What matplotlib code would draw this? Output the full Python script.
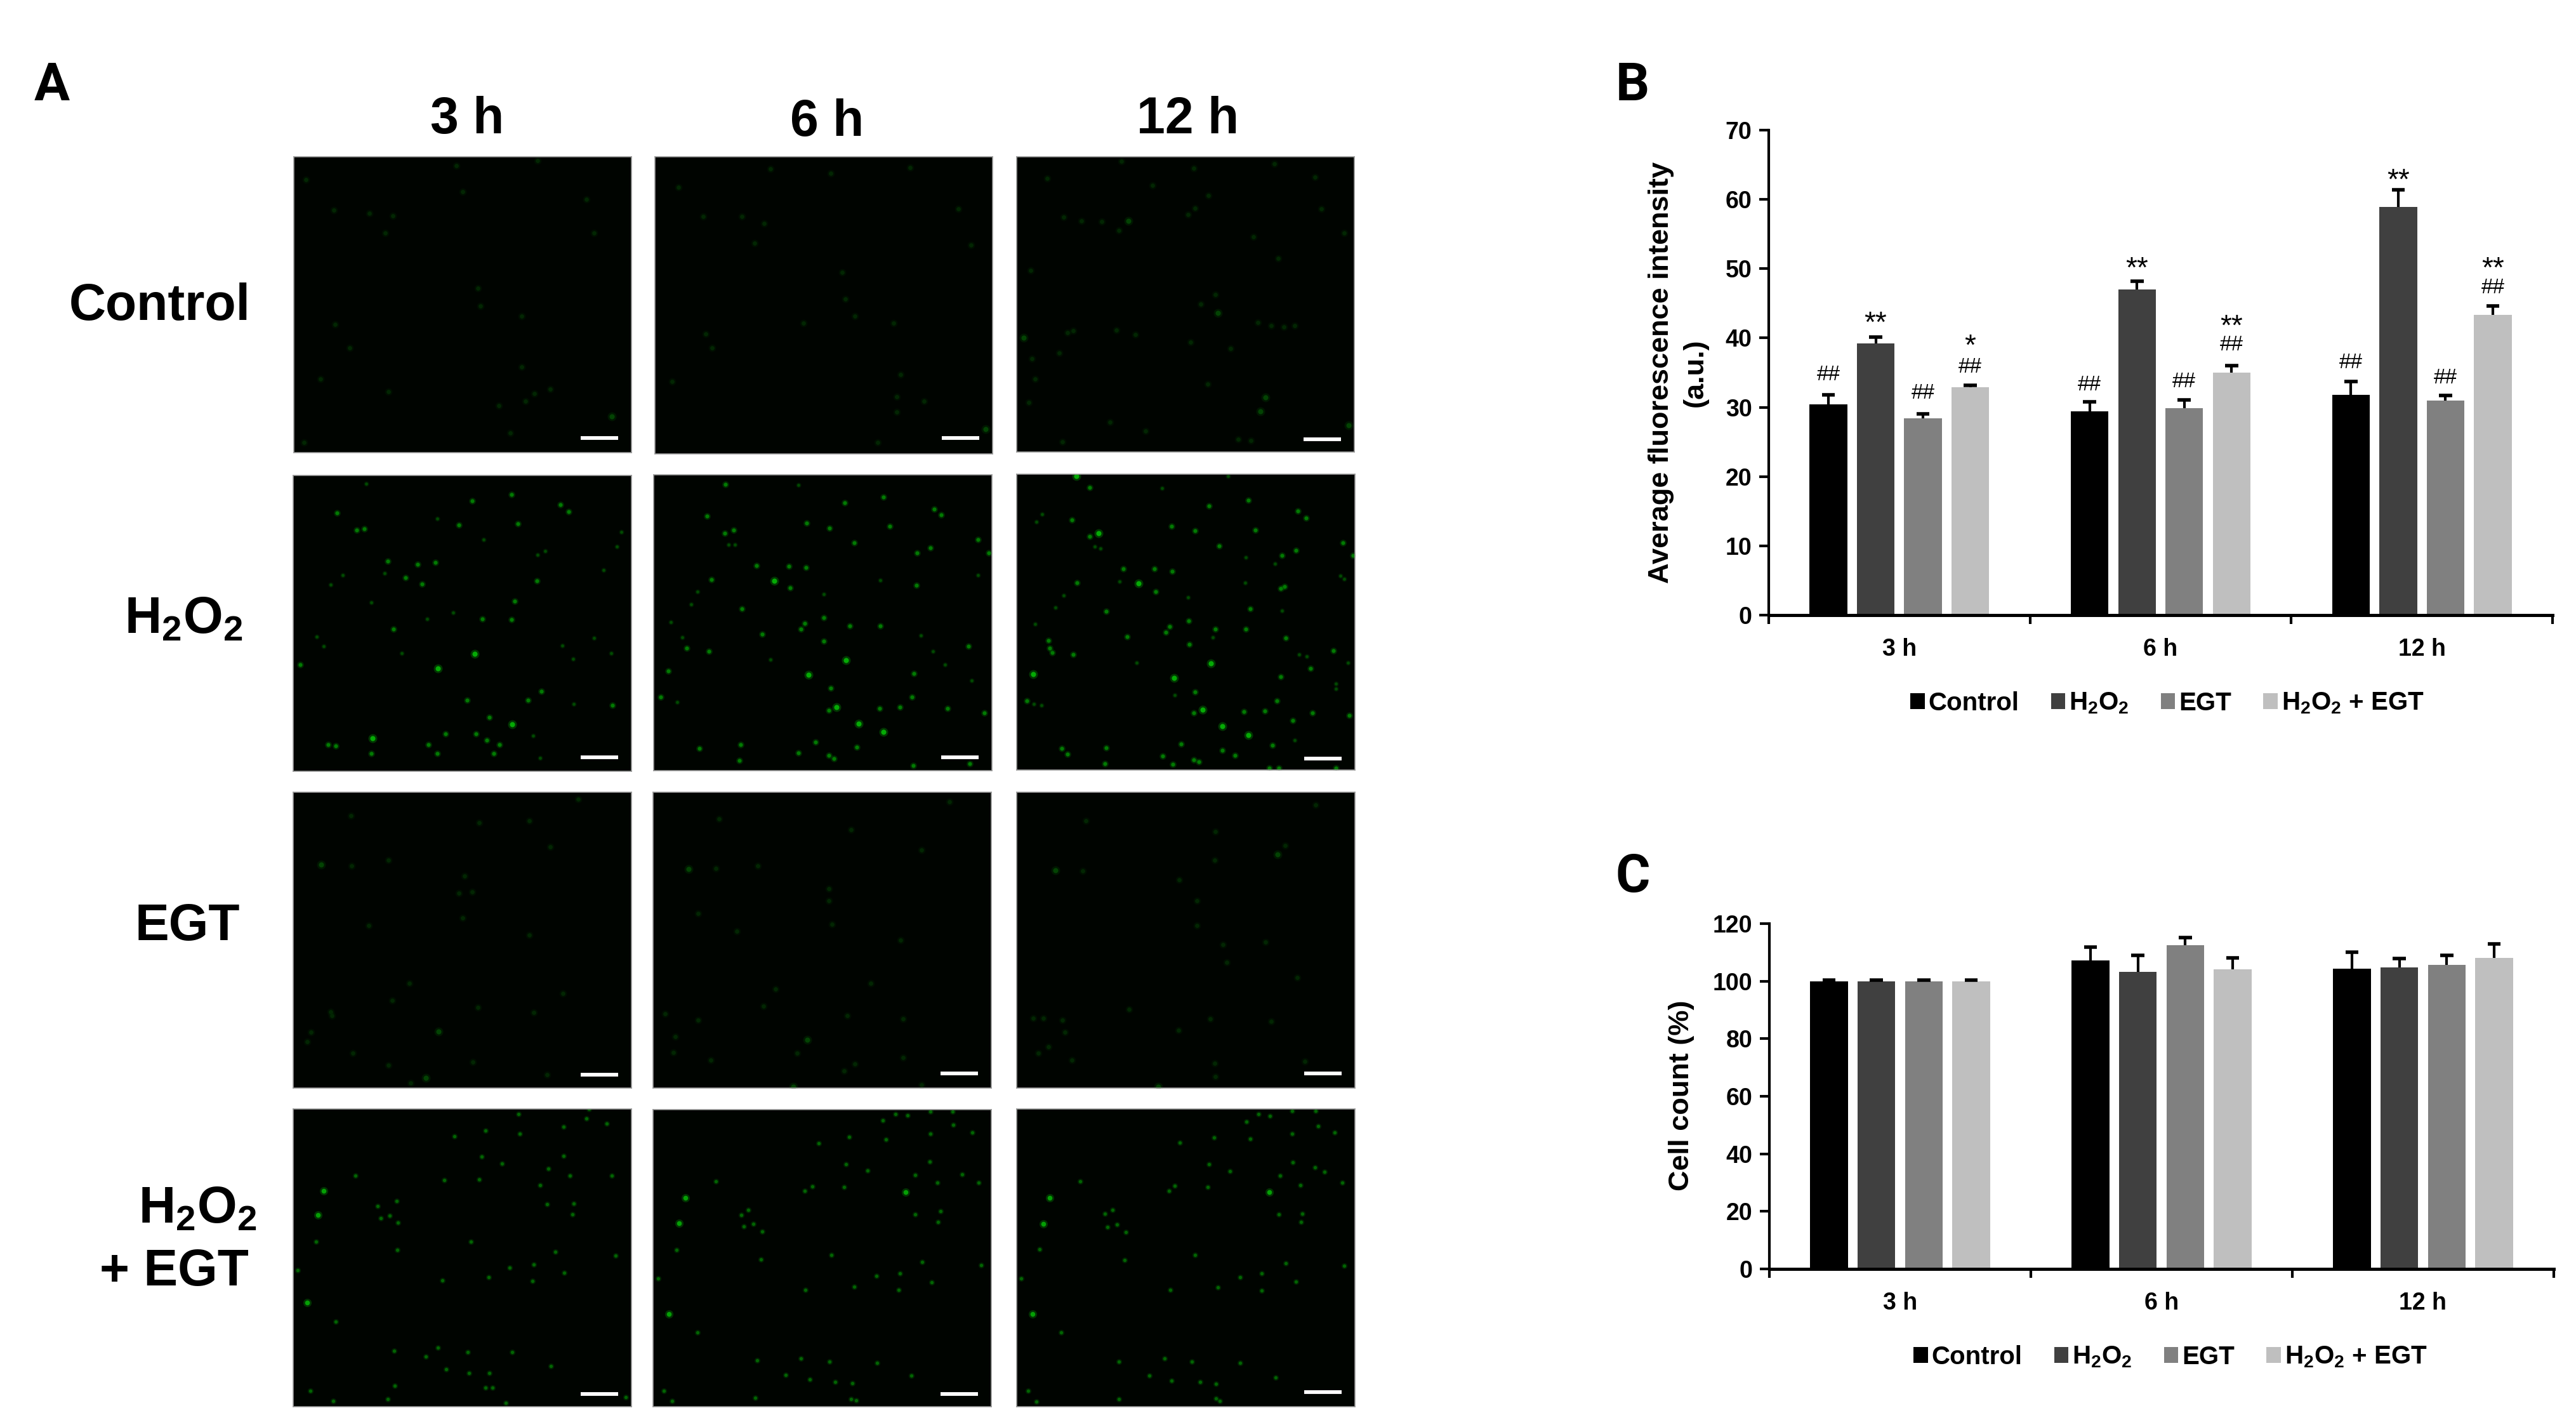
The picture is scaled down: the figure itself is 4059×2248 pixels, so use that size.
import matplotlib
matplotlib.use('Agg')
import matplotlib.pyplot as plt
import numpy as np

plt.rcParams['font.family'] = ['Liberation Sans', 'DejaVu Sans']
plt.rcParams['font.weight'] = 'bold'
plt.rcParams['mathtext.fontset'] = 'custom'
plt.rcParams['mathtext.bf'] = 'Liberation Sans:bold'
plt.rcParams['mathtext.rm'] = 'Liberation Sans:bold'
plt.rcParams['mathtext.default'] = 'bf'

W, H = 4059, 2248

times = ['3 h', '6 h', '12 h']
H2O2 = 'H$_2$O$_2$'
groups = ['Control', H2O2, 'EGT', H2O2 + ' + EGT']
colors = ['#000000', '#404040', '#808080', '#bfbfbf']

# panel B, one list per group, values at 3 h, 6 h, 12 h
fluor_control = [30.4, 29.4, 31.8]
fluor_h2o2 = [39.2, 47.0, 58.9]
fluor_egt = [28.4, 29.9, 31.0]
fluor_both = [32.9, 35.0, 43.3]
fluor_err_control = [1.4, 1.4, 1.9]
fluor_err_h2o2 = [0.9, 1.2, 2.5]
fluor_err_egt = [0.6, 1.2, 0.7]
fluor_err_both = [0.3, 1.0, 1.3]

# panel B significance marks (time, group, text, height)
fluor_marks = [
    (0, 0, '##', 35.0), (0, 1, '**', 43.1), (0, 2, '##', 32.3), (0, 3, '##', 36.1), (0, 3, '*', 39.8),
    (1, 0, '##', 33.5), (1, 1, '**', 51.0), (1, 2, '##', 34.0), (1, 3, '##', 39.3), (1, 3, '**', 42.7),
    (2, 0, '##', 36.7), (2, 1, '**', 63.7), (2, 2, '##', 34.5), (2, 3, '##', 47.5), (2, 3, '**', 51.0),
]

# panel C
count_control = [100, 107.3, 104.3]
count_h2o2 = [100, 103.3, 104.8]
count_egt = [100, 112.5, 105.7]
count_both = [100, 104.2, 108.1]
count_err_control = [0.4, 4.5, 5.7]
count_err_h2o2 = [0.4, 5.6, 3.0]
count_err_egt = [0.4, 2.7, 3.2]
count_err_both = [0.4, 3.9, 4.8]

# green spots of the micrographs, (x %, y % from top, level), level 0 dim, 2 bright, default 1
control_3h = [(3.5,7.7),(11.8,18),(22.4,19.2),(29.4,20),(48.2,3.1),(50,11.8),(86.6,14.3),(88.9,25.8),(55.3,50.5),(54.5,44.4),
              (12.3,56.6),(67.4,53.8),(67.5,71),(76,78.5),(71.3,80),(68.7,82.6),(94.2,87.8,2),(64.1,93.3),(3,96.5),(7.9,75.2),
              (16.5,64.5),(28,79.3),(60.7,84.2),(72.2,1.2),(27,25.8)]
control_6h = [(6.9,10.2),(14.2,20),(25.7,20),(32.4,22.5),(52.1,5.6),(34.3,4.1),(55.4,38.9),(59.2,53.6),(56.3,47.9),(15.1,59.7),
              (70.7,56),(72.7,73.3),(79.7,82.3),(71.6,80.7),(71.6,85.9),(97.9,91.6,2),(65.9,96.2),(5,75.7),(17,64.3),(75.5,3.6),
              (89.8,17.5),(93.7,29.8),(29.5,29),(43.9,56)]
control_12h = [(9.1,7.4),(31,1.6),(52.4,3.8),(76.4,2.3),(56.7,13.2),(88.3,6.8),(40.3,9.7),(14,20.4),(19.2,21.8),(25.1,22),
               (33.1,21.7,2),(30.3,25),(50.7,19.6),(52.9,17.5),(90.3,17.6),(70.2,27),(77.5,34.5),(4.1,38.5),(97,25.7),(58.9,46.7),
               (59.5,53,2),(54.5,49.8),(71.5,56.2),(75.3,57.2),(79.1,57.6),(82.3,57.2),(2.1,61.3,2),(15.1,59.5),(16.7,59),(29.6,58.8),
               (35.1,60.3),(63.4,65),(51.5,62.7),(12.5,66.4),(4.5,68.3),(5.4,75.3),(3.6,83.3),(56.5,77),(73.6,81.5,2),(72.1,86.2,2),
               (98.4,91,2),(65.6,95.8),(69.3,96.2),(27.7,89.9),(38.1,92.8),(13.6,96.5)]

h2o2_3h = [(21.5,2.8,0),(13,12.6),(18.8,18.4),(21,18),(53,8.5),(64.6,6.4),(79,9.9),(81.5,12.3),(42.5,14.6,0),(49,16.7),
           (66.5,16.3),(56.3,21.7,0),(74.5,25.5,0),(72.2,26.8,0),(95.6,24,0),(97,19,0),(28,29),(36.8,30),(42,29.4),(33.3,34.5),
           (38,36.6),(27,33,0),(14.7,33.7,0),(11,37,0),(72,35.6),(91.7,32,0),(65.5,42.5),(23,43,0),(39.6,48.4,0),(47.3,46.3,0),
           (56,48.4),(64.6,48.8),(29.7,52),(7,54.5,0),(9,57.8,0),(53.6,60.4,2),(42.7,65.2,2),(2,64),(32,60,0),(79.5,57.5,0),
           (82.8,62,0),(89,55,0),(94,60,0),(51.5,76),(73.4,73),(69.4,76),(94.3,77.7),(83,77.2,0),(58,81.8),(64.8,84.2,2),
           (54,87.4),(57.3,89.5),(45,87.4),(23.4,88.8,2),(10.3,91),(12.6,91.5),(40,91),(59.2,93.9),(61,91),(42.5,94),
           (23,94),(71,88,0),(73,95.5,0)]
h2o2_6h = [(21.2,3.3),(42.7,3.4,0),(56.5,9.5),(68,7.6),(83,11.5),(85,13.6),(15.7,14),(21,19.7),(23.6,18.7),(22.2,23.5,0),
           (24,23.6,0),(45.3,16.4),(52,18),(69.8,17.4),(59.3,23),(95.8,21.8),(81.8,24.6),(77.8,26.4),(99,26.3),(30.4,30.7),
           (40,31),(45,31.4),(17,35.5),(35.6,35.8,2),(40.3,38.3),(77.6,37.3),(67,35.6,0),(95.8,33.8,0),(13,39.4,0),(11,43.7,0),
           (26,45.3),(50.3,40.4,0),(5,49.8,0),(44.7,50.2),(43.5,52.2),(50.3,48.3),(58,51),(67,51),(32,53.9),(79,54.3,0),
           (8.4,55,0),(9.8,58.5),(16.4,59.6),(50.3,56.3),(93,58),(82.6,59.6,0),(56.8,62.6,2),(34.6,62.4,0),(4.4,66.3),(45.7,67.5,2),
           (86.2,64.2,0),(77,67.2),(52.4,72),(94,69.5,0),(2,75.2),(6.9,76.8,0),(54,78.5,2),(51.7,79.6),(66.7,79),(72.8,78.6),
           (76.3,75.2),(86.8,79),(97.7,80.5),(60.6,84.2,2),(67.9,87,2),(47.9,90.3),(60,92),(13.6,92.4),(25.7,91.3),(42.8,93.9),
           (51.7,94.9),(53.3,96),(25.4,96.6),(93.5,97.7),(76.7,98.2)]
h2o2_12h = [(17.6,0.6,2),(21.6,4.6),(42.9,4.7,0),(62.4,0.7,0),(68.5,8.9),(56.8,10.7),(83.2,12.4),(85.5,14.7),(7.5,13.5,0),(5.9,16,0),
            (16.3,15.5),(45.8,17.5),(52.7,19.2),(70.5,18.8),(21.6,21),(24.2,19.9,2),(23,24.5,0),(24.7,25,0),(59.9,24.2),(96.4,23.2),
            (82.5,25.7),(78.5,27.5),(99.5,27.5),(67.8,28.2,0),(76.4,30.3,0),(31.5,32),(40.7,32),(45.9,32.8),(17.8,36.8),(30.4,36.2,0),
            (36,36.9,2),(41,39.6),(67.6,36.6,0),(78,38.6),(79.2,38),(95.7,34.4,0),(96.9,35.4,0),(13.9,40.9,0),(50.7,41.6,0),(11.5,45,0),
            (26.5,46.4),(69,45.6),(78.4,46.2,0),(5.4,50.7,0),(50.8,49.6),(45.3,51.6),(44,53.4),(58.8,52.4),(67.7,52.3),(32.7,55),
            (58,55.2,0),(79.5,55.3),(9.3,56.2),(9.8,58.7),(10.6,60.2),(51,57.5),(16.7,61),(93.7,59.7),(83.5,61,0),(85.8,61.6,0),
            (35.5,63.8,0),(57.4,63.9,2),(97.9,63.8,0),(86.9,65.6),(4.9,67.5,2),(46.5,68.9,2),(78,68.5),(94.4,70.8,0),(94.4,72.6,0),(52.7,73.5),
            (46.8,74.7,0),(3,76.6),(5.1,77.7,0),(7.4,78.2,0),(77,76.6),(54.9,79.7,2),(52.4,80.6),(67.2,80.3),(73.3,80),(87.4,80.6),
            (98.3,81.5),(81.7,83.2),(60.8,85.3,2),(68.5,88.2,2),(82.2,90,0),(75.6,91.6),(48.5,91.3),(13.4,92.8),(15,94.7),(26.4,92.4),
            (60.7,93.3),(64.6,95.1),(43.1,95.2),(52.3,96.6),(53.8,97.2),(46.2,98),(26,97.9),(74.7,99.4),(77.5,99.3),(94.3,99.3)]

egt_3h = [(8.3,24.5,2),(17.2,24.8),(17,7.9),(55,10.3),(84.2,2.4),(69.8,9.7),(76,18.5),(28.1,23),(50,42.5),(69.8,48.2),
          (22.3,45),(53,33.6),(48.9,34.1),(50.6,28.3),(5.2,81.2),(11.5,75.6),(4.2,84.3),(42.9,80.9,2),(17.7,88.2),(53.1,91.2),
          (39.2,96.5,2),(34.8,98.2),(28.1,92.3),(75,95.4),(54.6,72.8),(29.2,70.3),(79.8,68),(71.2,74.5),(34.4,64.5),(11,74.2)]
egt_6h = [(10.6,25.9,2),(18.5,25.8),(19.6,9),(58.5,12.7),(87.7,3.2),(79.4,19.6),(31,24.8),(52.9,44.6),(73.1,50.1),(24.8,47),
          (51.9,36.6),(51.9,32.7),(13.3,41),(6.5,82.6),(13.3,77),(45.6,83.7,2),(32.7,72.4),(57.5,75.6),(6,88),(17,90.5),
          (56.5,94.2),(41.5,99.6,2),(79.4,98.9),(59.6,91.8),(42.5,88.2),(74,89.8),(73.9,76.7),(64.4,64.5),(36.3,66.6),(3.5,74.9)]
egt_12h = [(11.5,26.5,2),(19.6,26.6),(20.4,9.6),(58.8,13.2),(88.3,4.3),(79.4,18.1),(77.1,21,2),(58.6,23),(48.1,29.7),(53.3,36.8),
           (53.3,45),(73.5,50.6),(61,51.5),(82.9,62.7),(33.3,73.3),(57.3,76.6),(75.2,77.4),(47.9,80.5),(14.2,81.2),(9.4,86),
           (6.3,88.2),(16.3,90.5),(58.5,91.6),(58.7,96.2),(41.9,99.6,2),(85.2,90.9),(4.8,76.3),(7.9,76.3),(13.5,77),(62.1,57.5)]

both_3h = [(66.6,1.7),(87.5,0.1),(56.8,7.2),(67,8.4),(80,6),(86.6,3.3),(92.7,5),(47.6,9.1),(18.4,22.3),(44.7,23.8),
           (54.9,23.7),(55.7,16),(61.8,18.3),(80,15.8),(75.4,20),(81.8,22.4),(94.2,22.3),(73,25.6),(9,27.6,2),(7.3,35.6,2),
           (30.5,31),(25,32.7),(25.9,36.6),(28.6,35.9),(31,38.2),(75,31.9),(82.9,31.7),(82.5,35.5),(6.7,44.6),(30.7,47.4),
           (52.6,44.6),(77.5,48),(95.4,49.3),(1.3,54.2),(63.9,53.2),(71.2,52.2),(80.2,55.1),(57.8,56.6),(44,57.6),(70.8,57.8),
           (4.2,65,2),(12.5,71.5),(29.9,81.2),(42.8,80.2),(39.2,83.1),(51.6,81.7),(64.7,81.7),(76.2,86.4),(45.3,87.5),(52,88.8),
           (58,88.6),(30,93),(56.8,93.5),(58.9,93.5),(5,94.7),(28,97.4),(11.9,98),(62.8,98.8),(98.3,96.8)]
both_6h = [(71.6,1.5),(75.2,1.9),(82,0.6),(88.5,0.6),(68,3.7),(88.7,5.1),(58,9.1),(68.9,10),(82,8.2),(94.4,7.6),
           (48.9,11.4),(57,18.3),(63.5,20.6),(81.8,17.6),(77.5,22),(84,24.5),(91.4,21.7),(96.2,24.5),(18.6,24.1),(47,25.8),
           (44.9,27.4),(56.4,26),(74.7,27.8,2),(9.6,29.8,2),(7.7,38.2,2),(28.2,33.8),(26.1,35.5),(26.9,39.3),(29.6,38.5),(32.2,41),
           (77.5,35.2),(85,34.2),(84.3,37.8),(6.9,47.2),(31.9,50.4),(52.8,49),(79.5,51.2),(66,56),(73,55.1),(97,52.4),
           (82.3,58.2),(59.5,59.6),(72.7,60.7),(45,60.7),(1.5,56.9),(4.6,68.7,2),(13.2,75),(30.7,84.3),(43.8,83.7),(52.2,84.8),
           (66.2,85.2),(39.2,89.3),(46.3,90.9),(53.9,91.7),(59,92.2),(76.4,89.6),(3.1,94.7),(30.3,97),(5.6,98.1),(58.5,97.5),(60.1,97.8)]
both_12h = [(71.5,1.7),(74.8,2.4),(81.5,0.6),(88.3,0.7),(67.9,4.3),(89.2,5.8),(58.3,9.7),(69,10),(81.5,8.3),(94,7.9),
            (48.3,11.4),(56.9,18.6),(63.1,20.9),(81.7,17.9),(77.9,22.3),(83.8,25.5),(88.1,19.7),(91,21.2),(96.3,24.7),(18.8,24.4),
            (46.7,25.9),(45,27.6),(56.5,26.3),(74.6,28,2),(9.8,29.9,2),(7.9,38.5,2),(28.3,33.8),(26,35.2),(26.9,39.6),(29.6,38.9),
            (32.3,41.4),(77.5,35.5),(84.4,35.2),(84,38),(6.7,47.1),(31.9,50.7),(52.7,49),(79.6,51.8),(66,56.5),(72.5,55.3),
            (96.9,52.6),(82.5,57.9),(59.4,59.9),(72.5,61),(45.4,60.7),(1.3,57),(4.6,68.8,2),(13.1,75.1),(30.2,84.8),(43.8,83.9),
            (51.7,84.9),(66,85.3),(39.2,89.5),(45.8,91.3),(54.2,91.7),(59,92.4),(76.5,90.2),(3.3,94.7),(30.2,97.4),(5.8,98.2),(59,97.2),(60,98)]

spot_rows = [[control_3h, control_6h, control_12h],
             [h2o2_3h, h2o2_6h, h2o2_12h],
             [egt_3h, egt_6h, egt_12h],
             [both_3h, both_6h, both_12h]]

# pixel boxes of the micrographs: left, top, right, bottom
boxes = [[(463, 247, 995, 713), (1032, 247, 1564, 715), (1602, 247, 2134, 712)],
         [(462, 749, 995, 1215), (1030, 748, 1563, 1214), (1602, 747, 2135, 1213)],
         [(462, 1248, 995, 1714), (1029, 1248, 1562, 1714), (1602, 1248, 2135, 1714)],
         [(462, 1747, 995, 2216), (1029, 1748, 1562, 2216), (1602, 1747, 2135, 2216)]]
scale_y = [[95.0, 94.7, 95.6], [95.3, 95.4, 96.1], [95.4, 95.1, 95.1], [95.8, 95.8, 95.2]]

# spot colour and size per row, index is the level
row_core = [['#011a01', '#022602', '#034303'],
            ['#014a01', '#027a02', '#05aa05'],
            ['#011a01', '#022602', '#034303'],
            ['#013a01', '#026402', '#059f05']]
row_size = [[18, 24, 34], [12, 20, 34], [18, 24, 34], [10, 15, 30]]


def box_axes(left, top, right, bottom):
    return fig.add_axes([left / W, 1 - bottom / H, (right - left) / W, (bottom - top) / H])


def label(x, y, text, size=58, **kw):
    fig.text(x / W, 1 - y / H, text, fontsize=size, ha=kw.pop('ha', 'center'), va=kw.pop('va', 'center'), **kw)


fig = plt.figure(figsize=(W / 100, H / 100), dpi=100, facecolor='white')

# panel A
for r in range(4):
    for c in range(3):
        ax = box_axes(*boxes[r][c])
        ax.set_facecolor('#000400')
        ax.set_xlim(0, 100)
        ax.set_ylim(100, 0)
        ax.set_xticks([])
        ax.set_yticks([])
        for s in ax.spines.values():
            s.set_color('#999999')
            s.set_linewidth(1.2)
        spots = spot_rows[r][c]
        xs = np.array([p[0] for p in spots])
        ys = np.array([p[1] for p in spots])
        lv = np.array([p[2] if len(p) > 2 else 1 for p in spots])
        for level in (0, 1, 2):
            m = lv == level
            ax.scatter(xs[m], ys[m], s=row_size[r][level] * 3, color=row_core[r][level], alpha=0.3, linewidths=0)
            ax.scatter(xs[m], ys[m], s=row_size[r][level], color=row_core[r][level], linewidths=0)
        ax.plot([85, 96], [scale_y[r][c]] * 2, color='white', lw=4.2, solid_capstyle='butt')

label(736, 189, times[0])
label(1303, 193, times[1])
label(1872, 189, times[2])
label(395, 483, 'Control', ha='right')
label(383, 976, H2O2, ha='right')
label(378, 1460, 'EGT', ha='right')
label(405, 1905, H2O2, ha='right')
label(392, 2004, '+ EGT', ha='right')

label(82, 135, 'A', size=60, family='Roboto')
label(2572, 135, 'B', size=60, family='Roboto')
label(2573, 1383, 'C', size=60, family='Roboto')


def bar_panel(ax, series, errors, ymax, step):
    for k in range(4):
        pos = np.arange(3) + 0.5 + (k - 1.5) * 0.181
        vals = np.array(series[k])
        tops = vals + np.array(errors[k])
        ax.bar(pos, vals, width=0.144, color=colors[k], label=groups[k], zorder=2)
        # upper whisker only
        ax.vlines(pos, vals, tops, color='black', lw=3, zorder=1)
        ax.hlines(tops, pos - 0.025, pos + 0.025, color='black', lw=4, zorder=3)
    ax.set_xlim(0, 3)
    ax.set_ylim(0, ymax)
    ax.set_yticks(np.arange(0, ymax + 1, step))
    ax.set_xticks([0, 1, 2, 3])
    ax.set_xticklabels([])
    ax.set_xticks([0.5, 1.5, 2.5], minor=True)
    ax.set_xticklabels(times, minor=True)
    ax.tick_params(axis='x', which='minor', length=0, labelsize=27, pad=26)
    ax.tick_params(axis='x', which='major', length=10, width=3)
    ax.tick_params(axis='y', length=11, width=3, labelsize=27, pad=8)
    for s in ('top', 'right'):
        ax.spines[s].set_visible(False)
    ax.spines['left'].set_linewidth(3)
    ax.spines['bottom'].set_linewidth(3.6)
    ax.spines['bottom'].set_zorder(4)
    ax.patch.set_alpha(0)


# panel B
axb = box_axes(2787, 205, 4022, 969)
bar_panel(axb, [fluor_control, fluor_h2o2, fluor_egt, fluor_both],
          [fluor_err_control, fluor_err_h2o2, fluor_err_egt, fluor_err_both], 70, 10)
for t, g, text, y in fluor_marks:
    star = '*' in text
    axb.annotate(text, (t + 0.5 + (g - 1.5) * 0.181, y), xytext=(0, -17.5 if star else -8.5),
                 textcoords='offset points', ha='center', va='baseline',
                 fontsize=33 if star else 24, fontweight='normal')
label(2617, 587, 'Average fluorescence intensity', size=32.5, rotation=90)
label(2671, 587, '(a.u.)', size=32.5, rotation=90)
axb.legend(ncol=4, loc='center', bbox_to_anchor=(3415 / W, 1 - 1108 / H), bbox_transform=fig.transFigure,
           frameon=False, fontsize=29, handlelength=0.55, handleheight=0.55, handletextpad=0.15, columnspacing=1.25,
           borderpad=0)

# panel C
axc = box_axes(2788, 1455, 4024, 1999)
bar_panel(axc, [count_control, count_h2o2, count_egt, count_both],
          [count_err_control, count_err_h2o2, count_err_egt, count_err_both], 120, 20)
label(2649, 1726, 'Cell count (%)', size=32.5, rotation=90)
axc.legend(ncol=4, loc='center', bbox_to_anchor=(3420 / W, 1 - 2138 / H), bbox_transform=fig.transFigure,
           frameon=False, fontsize=29, handlelength=0.55, handleheight=0.55, handletextpad=0.15, columnspacing=1.25,
           borderpad=0)

fig.savefig('out.png', dpi=100, facecolor='white')
